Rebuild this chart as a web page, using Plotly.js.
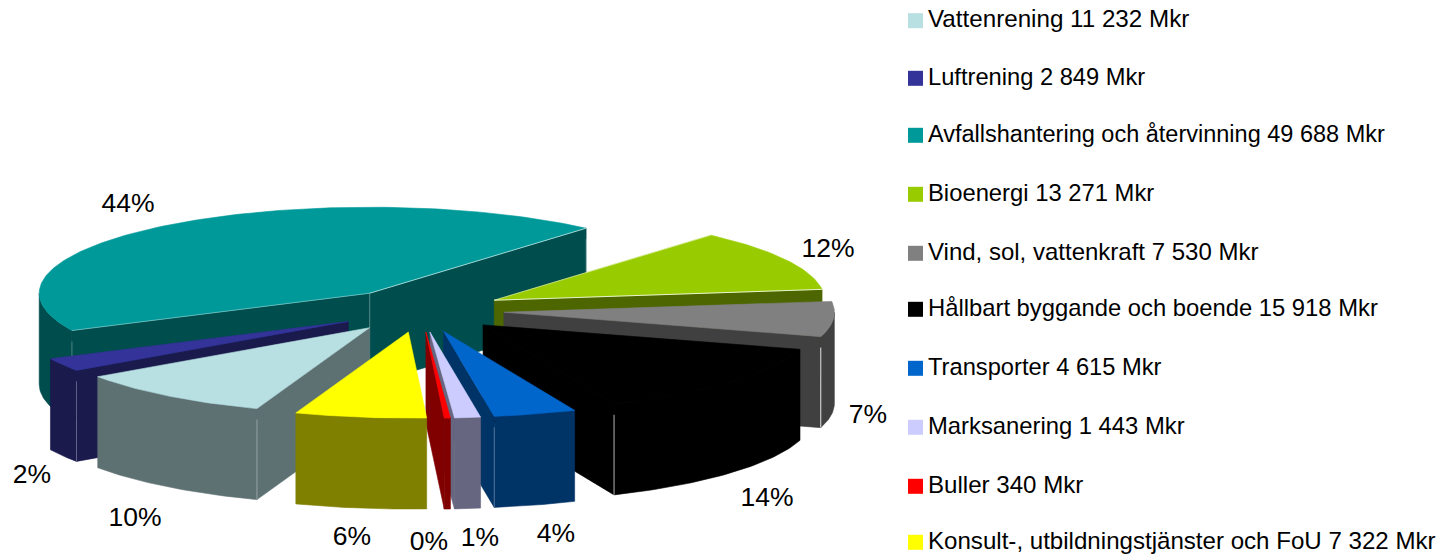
<!DOCTYPE html>
<html>
<head>
<meta charset="utf-8">
<script src="https://cdn.plot.ly/plotly-3.0.1.min.js"></script>
<style>html,body{margin:0;padding:0;background:#fff}#chart{width:1442px;height:556px}</style>
</head>
<body>
<div id="chart"></div>
<script>
// Data
const categories = ["Vattenrening","Luftrening","Avfallshantering och återvinning","Bioenergi","Vind, sol, vattenkraft","Hållbart byggande och boende","Transporter","Marksanering","Buller","Konsult-, utbildningstjänster och FoU"];
const valuesMkr = [11232,2849,49688,13271,7530,15918,4615,1443,340,7322];
const valueLabels = ["11 232","2 849","49 688","13 271","7 530","15 918","4 615","1 443","340","7 322"];

// Styling
const topColors = ["#B8E0E2","#333399","#009999","#99CC00","#808080","#000000","#0066CC","#CCCCFF","#FF0000","#FFFF00"];
const wallColors = ["#5E7172","#1A1A4D","#004D4D","#4D6600","#404040","#000000","#003366","#666680","#800000","#808000"];
const cornerAlpha = [0.35,0.3,0.3,0,0.85,0.7,0.3,0,0,0];
const edgeAlpha = [0,0,0.6,0.8,0,0,0,0,0,0];
const paintOrder = [2,3,4,1,0,5,6,7,8,9];

// Projection of the tilted pie onto the page (pixels)
const view = {cx:420.5, cy:310.5, rx:330.5, ry:86, depth:91, explode:0.253, startDeg:199.9};
const pctLabelPos = [[135,519],[32,476],[128,205],[828,250],[868,416],[767,499],[556,535],[480,539],[429,543],[352,538]];
const legendLayout = {markerX:915.5, textX:928, rows:[20.7,78.3,135.3,194.3,253.3,309.3,368.3,427.3,486.3,542.3],
                      fonts:[24.2,23.7,23.5,23.8,24,23.8,23.7,23.8,24.1,24.1]};
const FONT = "Liberation Sans, Arial, sans-serif";

const total = valuesMkr.reduce((a,b)=>a+b,0);
const rad = d => d*Math.PI/180;
function project(rUnits, deg, apex, drop){
  return [apex[0]+view.rx*rUnits*Math.sin(rad(deg)), apex[1]-view.ry*rUnits*Math.cos(rad(deg))+(drop||0)];
}
function polyTrace(pts, color){
  const xs = pts.map(p=>p[0]), ys = pts.map(p=>p[1]);
  xs.push(xs[0]); ys.push(ys[0]);
  return {x:xs,y:ys,type:"scatter",mode:"lines",fill:"toself",fillcolor:color,
          line:{color:color,width:0.6},hoverinfo:"skip",showlegend:false};
}
function lineTrace(p,q,alpha){
  return {x:[p[0],q[0]],y:[p[1],q[1]],type:"scatter",mode:"lines",
          line:{color:"rgba(255,255,255,"+alpha+")",width:1},hoverinfo:"skip",showlegend:false};
}
function arcPts(apex,a,b,drop){
  const pts=[]; const n=Math.max(2,Math.ceil(Math.abs(b-a)));
  for(let i=0;i<=n;i++){pts.push(project(1,a+(b-a)*i/n,apex,drop));}
  return pts;
}
// slice angles come from the values
const slices=[]; let acc=view.startDeg;
valuesMkr.forEach((v,i)=>{
  const sweep=v/total*360; const a=acc,b=acc+sweep; acc=b;
  const apex=project(view.explode,(a+b)/2,[view.cx,view.cy]);
  slices[i]={a,b,apex};
});
const traces=[];
paintOrder.forEach(i=>{
  const s=slices[i], d=view.depth;
  const corners=[];
  [[s.a,Math.sin(rad(s.a))<0],[s.b,Math.sin(rad(s.b))>0]].forEach(([ang,vis])=>{
    if(vis){
      const p=project(1,ang,s.apex);
      traces.push(polyTrace([s.apex,p,[p[0],p[1]+d],[s.apex[0],s.apex[1]+d]],wallColors[i]));
      corners.push(p);
    }
  });
  // front part of the rim
  for(let k=-360;k<=360;k+=360){
    const lo=Math.max(s.a,90+k), hi=Math.min(s.b,270+k);
    if(hi>lo){
      traces.push(polyTrace(arcPts(s.apex,lo,hi,0).concat(arcPts(s.apex,hi,lo,d)),wallColors[i]));
    }
  }
  // thin pale seams on wall corners
  if(cornerAlpha[i]>0){
    corners.forEach(p=>traces.push(lineTrace([p[0],p[1]+d*0.12],[p[0],p[1]+d],cornerAlpha[i])));
    if(i===2) traces.push(lineTrace([s.apex[0],s.apex[1]],[s.apex[0],s.apex[1]+d*0.8],cornerAlpha[i]));
  }
  // top
  traces.push(polyTrace([s.apex].concat(arcPts(s.apex,s.a,s.b,0)),topColors[i]));
  if(edgeAlpha[i]>0){
    traces.push(lineTrace(s.apex,project(1,s.a,s.apex),edgeAlpha[i]*0.6));
    traces.push(lineTrace(s.apex,project(1,s.b,s.apex),edgeAlpha[i]));
  }
});
// percent labels
traces.push({type:"scatter",mode:"text",
  x:pctLabelPos.map(p=>p[0]),y:pctLabelPos.map(p=>p[1]),
  text:valuesMkr.map(v=>Math.round(v/total*100)+"%"),
  textposition:"middle center",textfont:{family:FONT,size:26.5,color:"#000"},
  hoverinfo:"skip",showlegend:false,cliponaxis:false});
// legend
traces.push({type:"scatter",mode:"markers",
  x:categories.map(()=>legendLayout.markerX),y:legendLayout.rows,
  marker:{symbol:"square",size:15,color:topColors,line:{width:0}},
  hoverinfo:"skip",showlegend:false,cliponaxis:false});
traces.push({type:"scatter",mode:"text",
  x:categories.map(()=>legendLayout.textX),y:legendLayout.rows.map(r=>r+0.5),
  text:categories.map((c,i)=>c+" "+valueLabels[i]+" Mkr"),textposition:"middle right",
  textfont:{family:FONT,size:legendLayout.fonts,color:"#000"},
  hoverinfo:"skip",showlegend:false,cliponaxis:false});
const layout={width:1442,height:556,margin:{l:0,r:0,t:0,b:0,pad:0},
  paper_bgcolor:"#fff",plot_bgcolor:"#fff",showlegend:false,
  xaxis:{range:[0,1442],visible:false,fixedrange:true},
  yaxis:{range:[556,0],visible:false,fixedrange:true}};
Plotly.newPlot("chart",traces,layout,{displayModeBar:false,staticPlot:true});
</script>
</body>
</html>
